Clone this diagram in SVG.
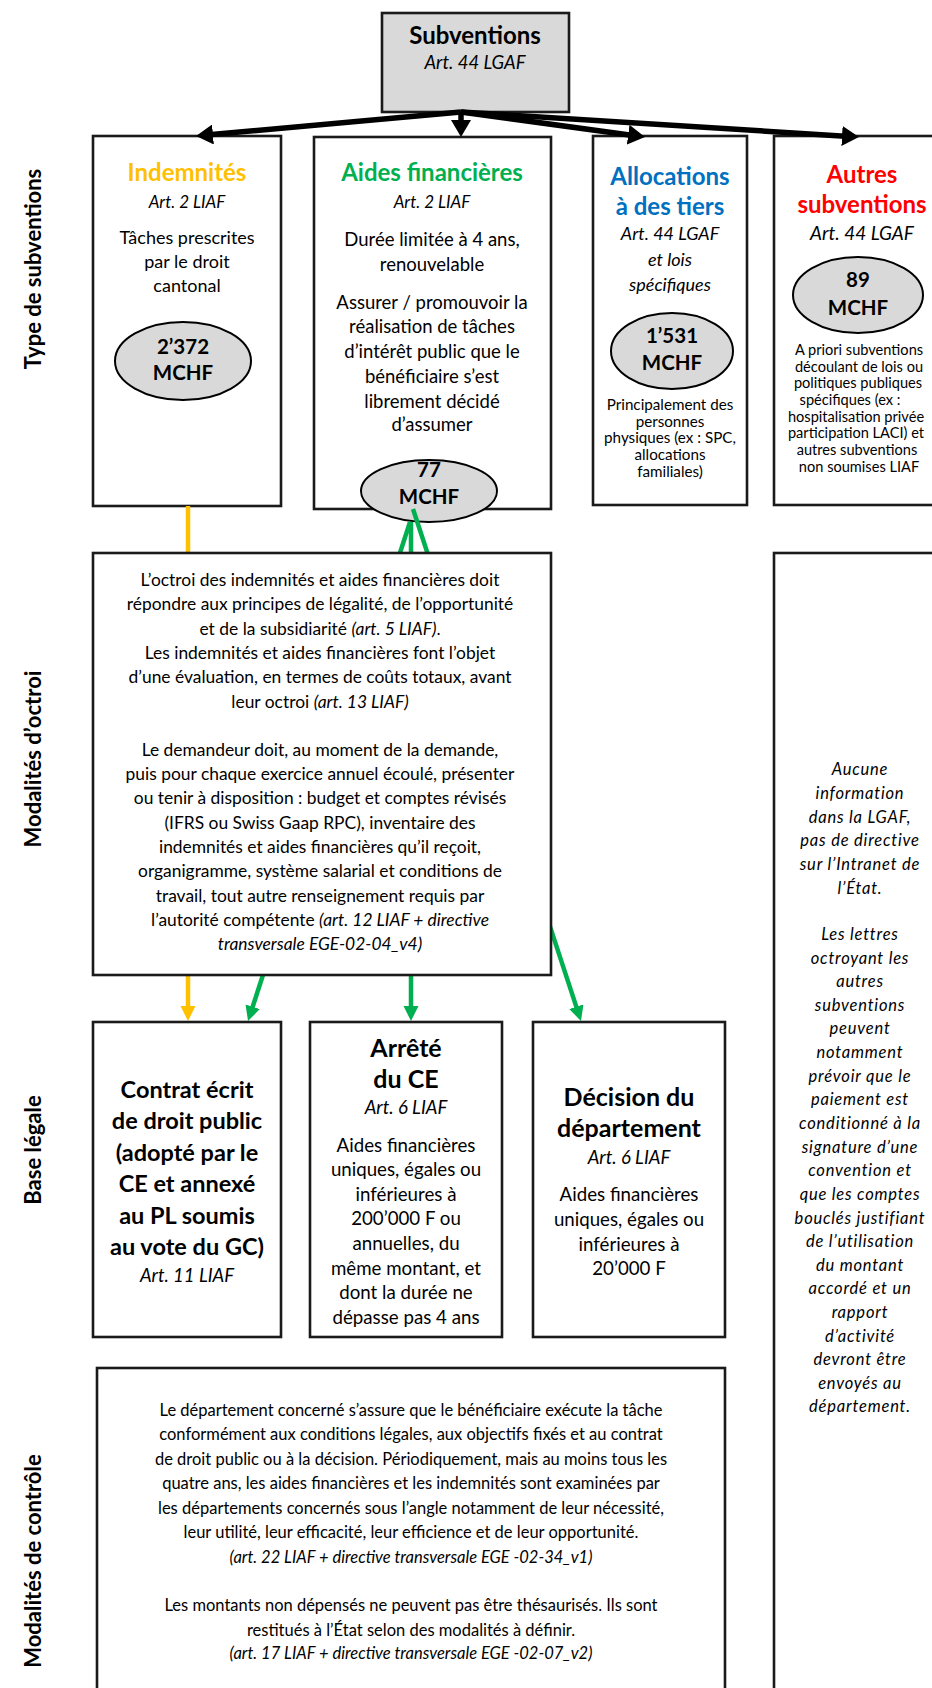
<svg xmlns="http://www.w3.org/2000/svg" width="932" height="1688" viewBox="0 0 932 1688">
<style>
text{font-family:Lato,"Open Sans","Liberation Sans",sans-serif;fill:#000;text-anchor:middle}
.box{fill:#fff;stroke:#1a1a1a;stroke-width:2.6}
.gbox{fill:#d9d9d9;stroke:#1a1a1a;stroke-width:2.6}
.ell{fill:#d9d9d9;stroke:#000;stroke-width:2}
.t{font-size:24px;font-weight:bold}
.t2{font-size:25px;font-weight:bold}
.tc{font-size:23.5px;font-weight:bold}
.it{font-size:17px;font-style:italic}
.it2{font-size:18.5px;font-style:italic}
.b{font-size:18.5px}
.bi{font-size:18px}
.bl{font-size:18.7px}
.o{font-size:17.4px}
.c{font-size:16.5px}
.s{font-size:15.2px}
.s2{font-size:14.6px}
.m{font-size:20.5px;font-weight:bold}
.lab{font-size:22px;font-weight:bold}
.ai{font-size:16.5px;font-style:italic;letter-spacing:0.8px}
.blk{stroke:#000;stroke-width:5.5;fill:none}
.grn{stroke:#00B050;stroke-width:4.5;fill:none}
.ylw{stroke:#FFC000;stroke-width:4.5;fill:none}
</style>
<defs>
<marker id="ab" markerUnits="userSpaceOnUse" markerWidth="18" markerHeight="20" refX="7" refY="10" orient="auto"><path d="M0,0 L17,10 L0,20 z" fill="#000"/></marker>
<marker id="ag" markerUnits="userSpaceOnUse" markerWidth="16" markerHeight="16" refX="7" refY="7.5" orient="auto"><path d="M0,0 L15,7.5 L0,15 z" fill="#00B050"/></marker>
<marker id="ay" markerUnits="userSpaceOnUse" markerWidth="16" markerHeight="16" refX="7" refY="7.5" orient="auto"><path d="M0,0 L15,7.5 L0,15 z" fill="#FFC000"/></marker>
</defs>

<g id="labels">
<text class="lab" transform="translate(41,269) rotate(-90)">Type de subventions</text>
<text class="lab" transform="translate(41,759) rotate(-90)">Modalités d’octroi</text>
<text class="lab" transform="translate(41,1150) rotate(-90)">Base légale</text>
<text class="lab" transform="translate(41,1561) rotate(-90)">Modalités de contrôle</text>
</g>

<g id="subventions">
<rect class="gbox" x="382" y="13" width="187" height="99"/>
<text class="t" x="475" y="44">Subventions</text>
<text class="it2" x="475" y="69">Art. 44 LGAF</text>
</g>

<g id="indemnites">
<rect class="box" x="93" y="136" width="188" height="370"/>
<text class="t" x="187" y="181" style="fill:#FFC000">Indemnités</text>
<text class="it" x="187" y="208">Art. 2 LIAF</text>
<text class="bi" x="187" y="244">Tâches prescrites</text>
<text class="bi" x="187" y="268">par le droit</text>
<text class="bi" x="187" y="292">cantonal</text>
<ellipse class="ell" cx="183" cy="361" rx="68" ry="39"/>
<text class="m" x="183" y="354">2’372</text>
<text class="m" x="183" y="380">MCHF</text>
</g>

<g id="aides">
<rect class="box" x="314" y="137" width="237" height="372"/>
<text class="t" x="432" y="181" style="fill:#00B050">Aides financières</text>
<text class="it" x="432" y="208">Art. 2 LIAF</text>
<text class="b" x="432" y="246">Durée limitée à 4 ans,</text>
<text class="b" x="432" y="271">renouvelable</text>
<text class="b" x="432" y="309">Assurer / promouvoir la</text>
<text class="b" x="432" y="333">réalisation de tâches</text>
<text class="b" x="432" y="358">d’intérêt public que le</text>
<text class="b" x="432" y="383">bénéficiaire s’est</text>
<text class="b" x="432" y="408">librement décidé</text>
<text class="b" x="432" y="431">d’assumer</text>
<ellipse class="ell" cx="429" cy="491" rx="68" ry="31"/>
<text class="m" x="429" y="477">77</text>
<text class="m" x="429" y="504">MCHF</text>
</g>

<g id="allocations">
<rect class="box" x="593" y="136" width="154" height="369"/>
<text class="t" x="670" y="185" style="fill:#0070C0">Allocations</text>
<text class="t" x="670" y="215" style="fill:#0070C0">à des tiers</text>
<text class="it2" x="670" y="240" style="font-size:18px">Art. 44 LGAF</text>
<text class="it2" x="670" y="266" style="font-size:18px">et lois</text>
<text class="it2" x="670" y="291" style="font-size:18px">spécifiques</text>
<ellipse class="ell" cx="672" cy="351" rx="61" ry="38"/>
<text class="m" x="672" y="343">1’531</text>
<text class="m" x="672" y="370">MCHF</text>
<text class="s" x="670" y="410">Principalement des</text>
<text class="s" x="670" y="427">personnes</text>
<text class="s" x="670" y="443">physiques (ex : SPC,</text>
<text class="s" x="670" y="460">allocations</text>
<text class="s" x="670" y="477">familiales)</text>
</g>

<g id="autres">
<rect class="box" x="774" y="136" width="182" height="369"/>
<text class="t" x="862" y="183" style="fill:#FF0000">Autres</text>
<text class="t" x="862" y="213" style="fill:#FF0000">subventions</text>
<text class="it2" x="862" y="240" style="font-size:19px">Art. 44 LGAF</text>
<ellipse class="ell" cx="858" cy="295" rx="65" ry="38"/>
<text class="m" x="858" y="287">89</text>
<text class="m" x="858" y="315">MCHF</text>
<text class="s2" x="859" y="355">A priori subventions</text>
<text class="s2" x="859" y="372">découlant de lois ou</text>
<text class="s2" x="858" y="388">politiques publiques</text>
<text class="s2" x="850" y="405">spécifiques (ex :</text>
<text class="s2" x="856" y="422">hospitalisation privée</text>
<text class="s2" x="856" y="438">participation LACI) et</text>
<text class="s2" x="857" y="455">autres subventions</text>
<text class="s2" x="859" y="472">non soumises LIAF</text>
</g>

<g id="connectors">
<line class="blk" x1="461" y1="112" x2="206" y2="135.1" marker-end="url(#ab)"/>
<line class="blk" x1="461" y1="112" x2="461" y2="127" marker-end="url(#ab)"/>
<line class="blk" x1="461" y1="112" x2="635.1" y2="135.7" marker-end="url(#ab)"/>
<line class="blk" x1="461" y1="112" x2="849" y2="136.4" marker-end="url(#ab)"/>
<line class="ylw" x1="188" y1="506" x2="188" y2="1013" marker-end="url(#ay)"/>
<line class="grn" x1="410" y1="522" x2="250.5" y2="1013.4" marker-end="url(#ag)"/>
<line class="grn" x1="411" y1="522" x2="411" y2="1013" marker-end="url(#ag)"/>
<line class="grn" x1="413" y1="509" x2="578.5" y2="1013.4" marker-end="url(#ag)"/>
</g>

<g id="octroi">
<rect class="box" x="93" y="553" width="458" height="422"/>
<text class="o" x="320" y="586">L’octroi des indemnités et aides financières doit</text>
<text class="o" x="320" y="610">répondre aux principes de légalité, de l’opportunité</text>
<text class="o" x="320" y="635">et de la subsidiarité  <tspan font-style="italic">(art. 5 LIAF)</tspan>.</text>
<text class="o" x="320" y="659">Les indemnités et aides financières font l’objet</text>
<text class="o" x="320" y="683">d’une évaluation, en termes de coûts totaux, avant</text>
<text class="o" x="320" y="708">leur octroi <tspan font-style="italic">(art. 13 LIAF)</tspan></text>
<text class="o" x="320" y="756">Le demandeur doit, au moment de la demande,</text>
<text class="o" x="320" y="780">puis pour chaque exercice annuel écoulé, présenter</text>
<text class="o" x="320" y="804">ou tenir à disposition : budget et comptes révisés</text>
<text class="o" x="320" y="829">(IFRS ou Swiss Gaap RPC), inventaire des</text>
<text class="o" x="320" y="853">indemnités et aides financières qu’il reçoit,</text>
<text class="o" x="320" y="877">organigramme, système salarial et conditions de</text>
<text class="o" x="320" y="902">travail, tout autre renseignement requis par</text>
<text class="o" x="320" y="926">l’autorité compétente  <tspan font-style="italic">(art. 12 LIAF + directive</tspan></text>
<text class="o" x="320" y="950" font-style="italic">transversale EGE-02-04_v4)</text>
</g>

<g id="autres-modalites">
<rect class="box" x="774" y="553" width="182" height="1150"/>
<text class="ai" x="860" y="775">Aucune</text>
<text class="ai" x="860" y="799">information</text>
<text class="ai" x="860" y="823">dans la LGAF,</text>
<text class="ai" x="860" y="846">pas de directive</text>
<text class="ai" x="860" y="870">sur l’Intranet de</text>
<text class="ai" x="860" y="894">l’État.</text>
<text class="ai" x="860" y="940">Les lettres</text>
<text class="ai" x="860" y="964">octroyant les</text>
<text class="ai" x="860" y="987">autres</text>
<text class="ai" x="860" y="1011">subventions</text>
<text class="ai" x="860" y="1034">peuvent</text>
<text class="ai" x="860" y="1058">notamment</text>
<text class="ai" x="860" y="1082">prévoir que le</text>
<text class="ai" x="860" y="1105">paiement est</text>
<text class="ai" x="860" y="1129">conditionné à la</text>
<text class="ai" x="860" y="1153">signature d’une</text>
<text class="ai" x="860" y="1176">convention et</text>
<text class="ai" x="860" y="1200">que les comptes</text>
<text class="ai" x="860" y="1224">bouclés justifiant</text>
<text class="ai" x="860" y="1247">de l’utilisation</text>
<text class="ai" x="860" y="1271">du montant</text>
<text class="ai" x="860" y="1294">accordé et un</text>
<text class="ai" x="860" y="1318">rapport</text>
<text class="ai" x="860" y="1342">d’activité</text>
<text class="ai" x="860" y="1365">devront être</text>
<text class="ai" x="860" y="1389">envoyés au</text>
<text class="ai" x="860" y="1412">département.</text>
</g>

<g id="contrat">
<rect class="box" x="93" y="1022" width="188" height="315"/>
<text class="tc" x="187" y="1098">Contrat écrit</text>
<text class="tc" x="187" y="1129">de droit public</text>
<text class="tc" x="187" y="1161">(adopté par le</text>
<text class="tc" x="187" y="1192">CE et annexé</text>
<text class="tc" x="187" y="1224">au PL soumis</text>
<text class="tc" x="187" y="1255">au vote du GC)</text>
<text class="it2" x="187" y="1282">Art. 11 LIAF</text>
</g>

<g id="arrete">
<rect class="box" x="310" y="1022" width="192" height="315"/>
<text class="t2" x="406" y="1057">Arrêté</text>
<text class="t2" x="406" y="1088">du CE</text>
<text class="it2" x="406" y="1114">Art. 6 LIAF</text>
<text class="bl" x="406" y="1152">Aides financières</text>
<text class="bl" x="406" y="1176">uniques, égales ou</text>
<text class="bl" x="406" y="1201">inférieures à</text>
<text class="bl" x="406" y="1225">200’000 F ou</text>
<text class="bl" x="406" y="1250">annuelles, du</text>
<text class="bl" x="406" y="1275">même montant, et</text>
<text class="bl" x="406" y="1299">dont la durée ne</text>
<text class="bl" x="406" y="1324">dépasse pas 4 ans</text>
</g>

<g id="decision">
<rect class="box" x="533" y="1022" width="192" height="315"/>
<text class="t2" x="629" y="1106">Décision du</text>
<text class="t2" x="629" y="1137">département</text>
<text class="it2" x="629" y="1164">Art. 6 LIAF</text>
<text class="bl" x="629" y="1201">Aides financières</text>
<text class="bl" x="629" y="1226">uniques, égales ou</text>
<text class="bl" x="629" y="1251">inférieures à</text>
<text class="bl" x="629" y="1275">20’000 F</text>
</g>

<g id="controle">
<rect class="box" x="97" y="1368" width="628" height="340"/>
<text class="c" x="411" y="1416">Le département concerné s’assure que le bénéficiaire exécute la tâche</text>
<text class="c" x="411" y="1440">conformément aux conditions légales, aux objectifs fixés et au contrat</text>
<text class="c" x="411" y="1465">de droit public ou à la décision. Périodiquement, mais au moins tous les</text>
<text class="c" x="411" y="1489">quatre ans, les aides financières et les indemnités sont examinées par</text>
<text class="c" x="411" y="1514">les départements concernés sous l’angle notamment de leur nécessité,</text>
<text class="c" x="411" y="1538">leur utilité, leur efficacité, leur efficience et de leur opportunité.</text>
<text class="c" x="411" y="1563" font-style="italic">(art. 22 LIAF + directive transversale EGE  -02-34_v1)</text>
<text class="c" x="411" y="1611">Les montants non dépensés ne peuvent pas être thésaurisés. Ils sont</text>
<text class="c" x="411" y="1636">restitués à l’État selon des modalités à définir.</text>
<text class="c" x="411" y="1659" font-style="italic">(art. 17 LIAF + directive transversale EGE -02-07_v2)</text>
</g>
</svg>
